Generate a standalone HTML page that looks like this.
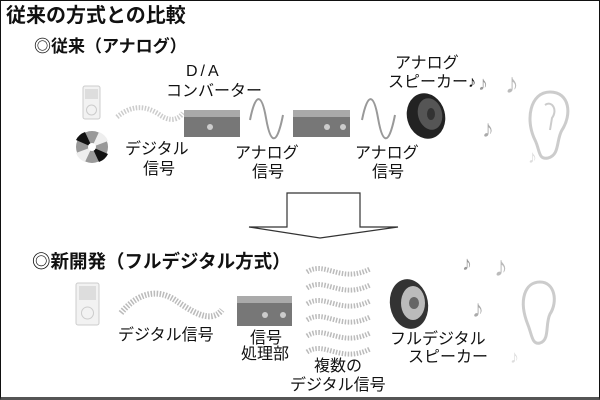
<!DOCTYPE html>
<html><head><meta charset="utf-8"><style>
body{margin:0;width:600px;height:400px;overflow:hidden;background:#fff;font-family:"Liberation Sans","Noto Sans CJK JP",sans-serif;}
.f{position:absolute;left:0;top:0;width:598px;height:396px;border:1px solid #111;border-bottom:3px solid #555;}
.t{position:absolute;white-space:nowrap;color:#111;line-height:1;}
</style></head><body>
<div class="f"></div>
<div class="t" style="left:6px;top:6px;font-size:20px;font-weight:bold;">従来の方式との比較</div>
<div class="t" style="left:34px;top:38px;font-size:17px;font-weight:bold">◎従来（アナログ）</div>
<div class="t" style="left:186px;top:64px;font-size:16px;letter-spacing:3px">D/A</div>
<div class="t" style="left:166px;top:84px;font-size:16px">コンバーター</div>
<div class="t" style="left:125px;top:142px;font-size:16px">デジタル</div>
<div class="t" style="left:143px;top:162px;font-size:16px">信号</div>
<div class="t" style="left:235px;top:146px;font-size:16px">アナログ</div>
<div class="t" style="left:252px;top:165px;font-size:16px">信号</div>
<div class="t" style="left:355px;top:146px;font-size:16px">アナログ</div>
<div class="t" style="left:372px;top:165px;font-size:16px">信号</div>
<div class="t" style="left:395px;top:56px;font-size:16px">アナログ</div>
<div class="t" style="left:388px;top:75px;font-size:16px">スピーカー♪</div>
<div class="t" style="left:32px;top:253px;font-size:18.5px;font-weight:bold">◎新開発（フルデジタル方式）</div>
<div class="t" style="left:118px;top:328px;font-size:16px">デジタル信号</div>
<div class="t" style="left:250px;top:331px;font-size:16px">信号</div>
<div class="t" style="left:241px;top:347px;font-size:16px">処理部</div>
<div class="t" style="left:314px;top:359px;font-size:16px">複数の</div>
<div class="t" style="left:290px;top:378px;font-size:16px">デジタル信号</div>
<div class="t" style="left:390px;top:332px;font-size:16px">フルデジタル</div>
<div class="t" style="left:408px;top:350px;font-size:16px">スピーカー</div>
<svg width="600" height="400" style="position:absolute;left:0;top:0">
<polygon points="287,193 360,193 360,227 398,227 320,238 249,227 287,227" fill="#fff" stroke="#333" stroke-width="1.2"/>
<rect x="83" y="86" width="17" height="33" rx="2" fill="#f2f2f2" stroke="#ccc"/>
<rect x="85" y="89" width="13" height="10" fill="#ddd"/>
<circle cx="91.5" cy="110" r="5" fill="none" stroke="#ccc"/>
<circle cx="92" cy="147" r="16" fill="#999"/>
<path d="M92,147 L76,140 A16,16 0 0,1 85,132Z M92,147 L108,154 A16,16 0 0,1 99,162Z" fill="#111"/>
<path d="M92,147 L99,132 A16,16 0 0,1 108,141Z M92,147 L85,162 A16,16 0 0,1 76,153Z" fill="#eee"/>
<circle cx="92" cy="147" r="4" fill="#fff"/>
<path d="M117,117 C135,102 150,108 160,115 S178,120 183,113" fill="none" stroke="#ccc" stroke-width="5" stroke-dasharray="1.5 1.5"/>
<g fill="#777"><rect x="184" y="110" width="56" height="27"/><rect x="293" y="110" width="57" height="27"/></g>
<g fill="#aaa"><rect x="184" y="110" width="56" height="7"/><rect x="293" y="110" width="57" height="7"/></g>
<g fill="#ccc"><circle cx="210" cy="127" r="3"/><circle cx="327" cy="127" r="3"/><circle cx="343" cy="127" r="3"/></g>
<path d="M250,120 C256,90 262,95 266,118 S276,150 283,115" fill="none" stroke="#999" stroke-width="2"/>
<path d="M362,120 C368,90 374,95 378,118 S388,150 395,115" fill="none" stroke="#999" stroke-width="2"/>
<ellipse cx="426" cy="116" rx="19" ry="23" fill="#222" transform="rotate(-15 426 116)"/>
<ellipse cx="430" cy="114" rx="12" ry="16" fill="#555" transform="rotate(-15 430 114)"/>
<ellipse cx="431" cy="114" rx="4" ry="6" fill="#333"/>
<path d="M535,140 C525,120 530,92 550,92 C570,92 572,115 562,130 C556,140 560,155 548,158 C538,160 540,150 535,140Z" fill="none" stroke="#ccc" stroke-width="3"/>
<path d="M545,105 C552,100 558,110 552,118 L550,130" fill="none" stroke="#ccc" stroke-width="2"/>
<rect x="76" y="283" width="23" height="42" rx="2" fill="#f2f2f2" stroke="#ccc"/>
<rect x="79" y="286" width="17" height="14" fill="#ddd"/>
<circle cx="87.5" cy="313" r="6" fill="none" stroke="#ccc"/>
<path d="M121,313 C140,290 160,290 175,300 S210,325 222,310" fill="none" stroke="#bbb" stroke-width="6" stroke-dasharray="1.5 1.5"/>
<rect x="237" y="296" width="55" height="30" fill="#777"/><rect x="237" y="296" width="55" height="7" fill="#aaa"/>
<circle cx="265" cy="315" r="3" fill="#ccc"/><circle cx="283" cy="315" r="3" fill="#ccc"/>
<g fill="none" stroke="#bbb" stroke-width="5" stroke-dasharray="1.5 1.5">
<path d="M307,272 C325,260 340,284 370,269"/>
<path d="M307,288 C325,276 340,300 370,285"/>
<path d="M307,304 C325,292 340,316 370,301"/>
<path d="M307,320 C325,308 340,332 370,317"/>
<path d="M307,336 C325,324 340,348 370,333"/>
<path d="M307,352 C325,340 340,364 370,349"/>
</g>
<ellipse cx="409" cy="304" rx="19" ry="25" fill="#333" transform="rotate(-10 409 304)"/>
<ellipse cx="413" cy="303" rx="12" ry="17" fill="#bbb"/>
<ellipse cx="414" cy="303" rx="5" ry="6" fill="#666"/>
<path d="M528,325 C518,300 525,282 540,282 C555,282 558,302 550,314 C545,324 550,340 540,343 C532,345 532,335 528,325Z" fill="none" stroke="#ccc" stroke-width="3"/>
</svg>
<div class="t" style="left:478px;top:74px;font-size:20px;color:#999">♪</div>
<div class="t" style="left:505px;top:70px;font-size:28px;color:#bbb">♪</div>
<div class="t" style="left:482px;top:118px;font-size:24px;color:#aaa">♪</div>
<div class="t" style="left:528px;top:148px;font-size:18px;color:#ddd">♪</div>
<div class="t" style="left:462px;top:254px;font-size:20px;color:#999">♪</div>
<div class="t" style="left:494px;top:253px;font-size:28px;color:#bbb">♪</div>
<div class="t" style="left:472px;top:298px;font-size:24px;color:#aaa">♪</div>
<div class="t" style="left:510px;top:348px;font-size:18px;color:#ddd">♪</div>
</body></html>
